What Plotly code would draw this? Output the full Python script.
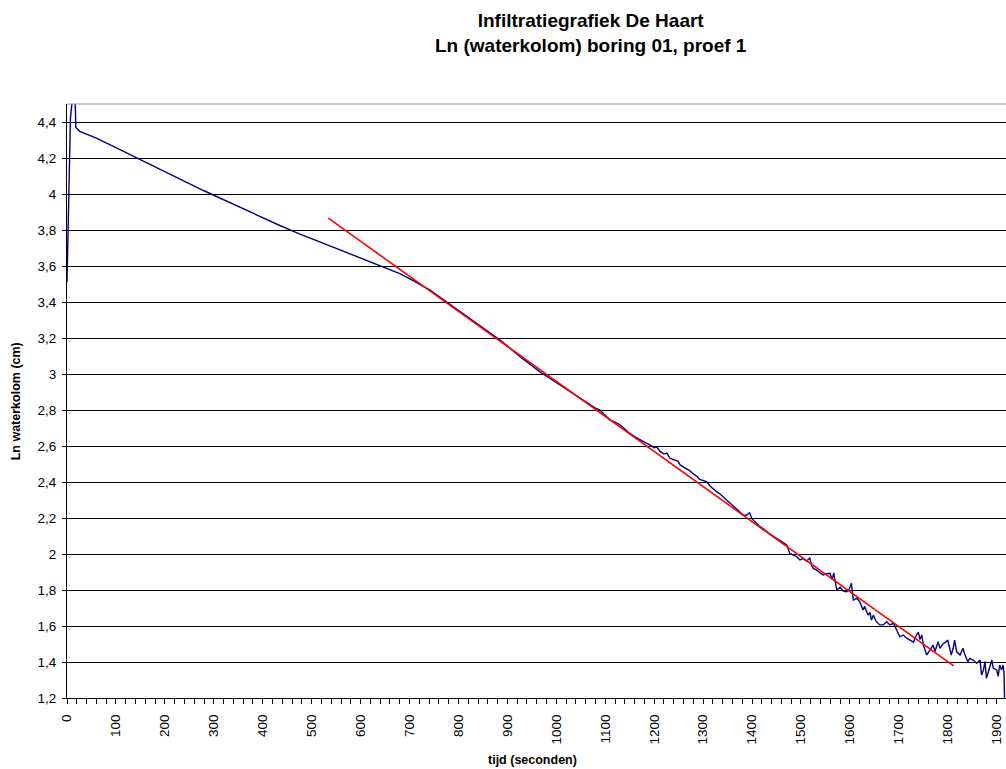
import plotly.graph_objects as go

# Measured series: time (s) and natural log of the water column (cm)
t_s = [
    0, 7, 10, 13, 16, 18, 26, 37, 48, 60, 80, 100, 120, 140, 160, 180, 200,
    220, 240, 260, 280, 300, 330, 360, 400, 435, 475, 517, 545, 571, 605, 640,
    660, 680, 700, 721, 742, 762, 782, 803, 823, 844, 865, 885, 905, 926, 946,
    966, 987, 1007, 1028, 1048, 1068, 1079, 1089, 1100, 1110, 1120, 1130,
    1140, 1150, 1160, 1171, 1181, 1191, 1200, 1205, 1212, 1220, 1226, 1232,
    1240, 1249, 1253, 1259, 1266, 1273, 1280, 1287, 1293, 1300, 1307, 1314,
    1321, 1328, 1334, 1341, 1348, 1355, 1362, 1369, 1375, 1382, 1388, 1395,
    1400, 1409, 1416, 1423, 1430, 1437, 1443, 1450, 1457, 1464, 1471, 1477,
    1484, 1491, 1498, 1504, 1511, 1518, 1522, 1525, 1532, 1538, 1545, 1552,
    1559, 1564, 1567, 1573, 1580, 1586, 1593, 1598, 1603, 1607, 1614, 1620,
    1627, 1630, 1637, 1641, 1644, 1648, 1654, 1661, 1668, 1675, 1682, 1689,
    1695, 1702, 1709, 1716, 1723, 1730, 1736, 1740, 1743, 1747, 1750, 1757,
    1764, 1770, 1774, 1780, 1784, 1790, 1797, 1800, 1804, 1807, 1811, 1814,
    1818, 1825, 1831, 1834, 1841, 1845, 1852, 1859, 1866, 1869, 1873, 1876,
    1879, 1886, 1890, 1893, 1900, 1903, 1906, 1910, 1913, 1915, 1916,
]
ln_h = [
    3.51, 4.42, 4.50, 4.62, 4.60, 4.37, 4.348, 4.337, 4.326, 4.311, 4.284,
    4.257, 4.231, 4.204, 4.177, 4.151, 4.124, 4.097, 4.071, 4.044, 4.018,
    3.993, 3.955, 3.918, 3.868, 3.825, 3.779, 3.734, 3.704, 3.676, 3.641,
    3.604, 3.582, 3.558, 3.530, 3.500, 3.466, 3.428, 3.388, 3.346, 3.307,
    3.267, 3.227, 3.189, 3.142, 3.096, 3.055, 3.013, 2.975, 2.939, 2.902,
    2.865, 2.828, 2.812, 2.800, 2.772, 2.744, 2.732, 2.717, 2.694, 2.670,
    2.652, 2.633, 2.620, 2.606, 2.590, 2.596, 2.570, 2.555, 2.560, 2.532,
    2.522, 2.515, 2.495, 2.485, 2.478, 2.462, 2.445, 2.432, 2.415, 2.408,
    2.402, 2.378, 2.359, 2.345, 2.335, 2.318, 2.300, 2.282, 2.263, 2.247,
    2.235, 2.217, 2.215, 2.229, 2.195, 2.170, 2.152, 2.140, 2.124, 2.110,
    2.100, 2.087, 2.078, 2.062, 2.050, 2.004, 1.995, 1.985, 1.967, 1.975,
    1.960, 1.978, 1.935, 1.920, 1.910, 1.895, 1.883, 1.890, 1.893, 1.860,
    1.895, 1.800, 1.815, 1.795, 1.790, 1.800, 1.837, 1.744, 1.755, 1.735,
    1.689, 1.710, 1.661, 1.675, 1.633, 1.660, 1.624, 1.606, 1.606, 1.624,
    1.606, 1.615, 1.578, 1.540, 1.550, 1.532, 1.522, 1.510, 1.550, 1.566,
    1.525, 1.550, 1.494, 1.439, 1.467, 1.494, 1.458, 1.513, 1.476, 1.500,
    1.513, 1.522, 1.476, 1.439, 1.476, 1.522, 1.458, 1.439, 1.476, 1.449,
    1.402, 1.420, 1.411, 1.393, 1.411, 1.328, 1.356, 1.402, 1.310, 1.374,
    1.411, 1.365, 1.356, 1.320, 1.383, 1.356, 1.383, 1.338, 1.190,
]

# Linear trend fitted on the straight part of the curve
trend_t = [534, 1812]
trend_ln = [3.866, 1.378]

FONT = "Arial, Liberation Sans, sans-serif"

fig = go.Figure()
fig.add_trace(go.Scatter(
    x=t_s, y=ln_h, mode="lines",
    line=dict(color="#000080", width=1.4),
    showlegend=False,
))
fig.add_trace(go.Scatter(
    x=trend_t, y=trend_ln, mode="lines",
    line=dict(color="#FF0000", width=1.6),
    showlegend=False,
))

fig.update_layout(
    width=1006, height=769,
    margin=dict(l=67, r=0, t=104, b=71),
    paper_bgcolor="white", plot_bgcolor="white",
    separators=",.",
    font=dict(family=FONT, size=13, color="black"),
    xaxis=dict(
        range=[0, 1919], dtick=100, tick0=0, tickformat="d",
        tickangle=-90, ticks="outside", ticklen=5, tickcolor="black",
        ticklabelstandoff=5,
        showgrid=False, zeroline=False,
        showline=True, linecolor="black", linewidth=1,
        minor=dict(dtick=20, tick0=0, ticks="outside", ticklen=5,
                   tickcolor="black", showgrid=False),
        tickfont=dict(size=13.5),
    ),
    yaxis=dict(
        range=[1.2, 4.5], dtick=0.2, tick0=1.2,
        ticks="outside", ticklen=4, tickcolor="black",
        ticklabelstandoff=3,
        showgrid=True, gridcolor="black", gridwidth=1,
        zeroline=False,
        showline=True, linecolor="black", linewidth=1,
        tickfont=dict(size=13.5),
    ),
    shapes=[dict(type="line", xref="paper", yref="paper",
                 x0=0, x1=1, y0=1, y1=1,
                 line=dict(color="#9a9a9a", width=1))],
    annotations=[
        dict(text="<b>Infiltratiegrafiek De Haart</b><br>"
                  "<b>Ln (waterkolom) boring 01, proef 1</b>",
             xref="paper", yref="paper",
             x=0.558, y=1.1187, xanchor="center", yanchor="middle",
             align="center", showarrow=False, font=dict(size=19)),
        dict(text="<b>tijd (seconden)</b>", xref="paper", yref="paper",
             x=0.496, y=-0.104, xanchor="center", yanchor="middle",
             showarrow=False, font=dict(size=12.5)),
        dict(text="<b>Ln waterkolom (cm)</b>", xref="paper", yref="paper",
             x=-0.054, y=0.5, xanchor="center", yanchor="middle",
             textangle=-90, showarrow=False, font=dict(size=12.5)),
    ],
)

fig.write_html("out.html")
